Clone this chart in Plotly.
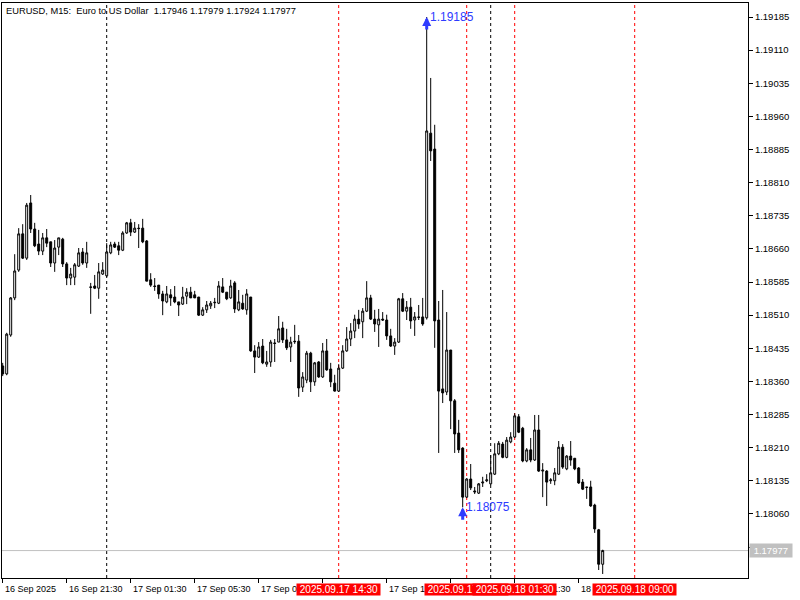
import pandas as pd
import plotly.graph_objects as go

# ---------------- data ----------------
start_time = "2025-09-16 17:30"
n_bars = 151
times = pd.date_range(start_time, periods=n_bars, freq="15min")

opens = [1.18395, 1.18377, 1.18465, 1.18549, 1.18612, 1.18694, 1.18639, 1.18764, 1.18705, 1.18671,
         1.18655, 1.18685, 1.18676, 1.18628, 1.18664, 1.18682, 1.18626, 1.18594, 1.18596, 1.18621,
         1.18653, 1.18628, 1.18574, 1.18576, 1.18571, 1.18603, 1.18599, 1.18651, 1.18671, 1.18667,
         1.18657, 1.18696, 1.18719, 1.18698, 1.18707, 1.18707, 1.18678, 1.18590, 1.18576, 1.18578,
         1.18558, 1.18540, 1.18556, 1.18551, 1.18540, 1.18535, 1.18553, 1.18562, 1.18556, 1.18551,
         1.18510, 1.18522, 1.18531, 1.18538, 1.18537, 1.18574, 1.18562, 1.18549, 1.18583, 1.18522,
         1.18537, 1.18522, 1.18551, 1.18429, 1.18415, 1.18440, 1.18399, 1.18404, 1.18447, 1.18449,
         1.18481, 1.18454, 1.18438, 1.18451, 1.18451, 1.18347, 1.18363, 1.18424, 1.18359, 1.18404,
         1.18370, 1.18429, 1.18388, 1.18356, 1.18338, 1.18390, 1.18429, 1.18456, 1.18474, 1.18501,
         1.18495, 1.18519, 1.18549, 1.18501, 1.18488, 1.18501, 1.18499, 1.18463, 1.18440, 1.18449,
         1.18547, 1.18519, 1.18528, 1.18499, 1.18506, 1.18506, 1.18504, 1.18922, 1.18886, 1.18499,
         1.18343, 1.18336, 1.18431, 1.18316, 1.18243, 1.18209, 1.18098, 1.18139, 1.18112, 1.18107,
         1.18130, 1.18135, 1.18128, 1.18150, 1.18196, 1.18218, 1.18188, 1.18223, 1.18234, 1.18280,
         1.18254, 1.18180, 1.18205, 1.18182, 1.18250, 1.18157, 1.18157, 1.18135, 1.18135, 1.18150,
         1.18211, 1.18162, 1.18191, 1.18186, 1.18164, 1.18132, 1.18121, 1.18121, 1.18080, 1.18024,
         1.17946]

highs = [1.18402, 1.18470, 1.18551, 1.18648, 1.18707, 1.18716, 1.18764, 1.18782, 1.18719, 1.18703,
         1.18696, 1.18705, 1.18676, 1.18680, 1.18685, 1.18685, 1.18630, 1.18617, 1.18628, 1.18662,
         1.18662, 1.18676, 1.18583, 1.18601, 1.18628, 1.18630, 1.18673, 1.18676, 1.18676, 1.18676,
         1.18700, 1.18721, 1.18728, 1.18721, 1.18716, 1.18728, 1.18680, 1.18605, 1.18594, 1.18578,
         1.18565, 1.18576, 1.18569, 1.18576, 1.18540, 1.18574, 1.18571, 1.18574, 1.18565, 1.18551,
         1.18528, 1.18542, 1.18542, 1.18549, 1.18587, 1.18594, 1.18562, 1.18590, 1.18587, 1.18567,
         1.18556, 1.18569, 1.18551, 1.18442, 1.18449, 1.18456, 1.18429, 1.18454, 1.18456, 1.18508,
         1.18495, 1.18479, 1.18461, 1.18488, 1.18465, 1.18381, 1.18429, 1.18427, 1.18404, 1.18406,
         1.18447, 1.18456, 1.18402, 1.18375, 1.18399, 1.18442, 1.18483, 1.18492, 1.18511, 1.18522,
         1.18526, 1.18587, 1.18556, 1.18522, 1.18524, 1.18517, 1.18511, 1.18479, 1.18458, 1.18549,
         1.18560, 1.18542, 1.18549, 1.18517, 1.18533, 1.18549, 1.19185, 1.19047, 1.18941, 1.18542,
         1.18567, 1.18517, 1.18431, 1.18320, 1.18273, 1.18211, 1.18141, 1.18173, 1.18121, 1.18130,
         1.18144, 1.18150, 1.18193, 1.18220, 1.18225, 1.18223, 1.18234, 1.18245, 1.18288, 1.18286,
         1.18257, 1.18209, 1.18232, 1.18284, 1.18284, 1.18175, 1.18159, 1.18141, 1.18164, 1.18225,
         1.18218, 1.18193, 1.18225, 1.18186, 1.18166, 1.18139, 1.18121, 1.18135, 1.18083, 1.18026,
         1.17979]

lows = [1.18372, 1.18374, 1.18461, 1.18544, 1.18608, 1.18637, 1.18635, 1.18696, 1.18664, 1.18646,
        1.18646, 1.18664, 1.18619, 1.18608, 1.18646, 1.18619, 1.18578, 1.18578, 1.18578, 1.18619,
        1.18624, 1.18617, 1.18513, 1.18569, 1.18547, 1.18601, 1.18596, 1.18648, 1.18662, 1.18646,
        1.18655, 1.18694, 1.18689, 1.18696, 1.18662, 1.18673, 1.18587, 1.18574, 1.18565, 1.18547,
        1.18510, 1.18537, 1.18531, 1.18537, 1.18508, 1.18533, 1.18535, 1.18549, 1.18549, 1.18508,
        1.18508, 1.18515, 1.18524, 1.18526, 1.18535, 1.18560, 1.18544, 1.18547, 1.18515, 1.18519,
        1.18522, 1.18511, 1.18427, 1.18379, 1.18413, 1.18399, 1.18393, 1.18393, 1.18404, 1.18449,
        1.18447, 1.18431, 1.18404, 1.18445, 1.18325, 1.18336, 1.18356, 1.18336, 1.18350, 1.18368,
        1.18368, 1.18384, 1.18347, 1.18337, 1.18336, 1.18388, 1.18427, 1.18440, 1.18458, 1.18479,
        1.18458, 1.18517, 1.18499, 1.18472, 1.18438, 1.18497, 1.18454, 1.18438, 1.18420, 1.18447,
        1.18517, 1.18499, 1.18479, 1.18463, 1.18499, 1.18486, 1.18500, 1.18859, 1.18436, 1.18198,
        1.18311, 1.18329, 1.18252, 1.18198, 1.18198, 1.18075, 1.18096, 1.18114, 1.18105, 1.18105,
        1.18121, 1.18132, 1.18125, 1.18148, 1.18193, 1.18186, 1.18186, 1.18220, 1.18232, 1.18243,
        1.18177, 1.18177, 1.18177, 1.18180, 1.18155, 1.18098, 1.18078, 1.18128, 1.18125, 1.18148,
        1.18162, 1.18159, 1.18169, 1.18159, 1.18128, 1.18114, 1.18094, 1.18076, 1.18017, 1.17933,
        1.17924]

closes = [1.18377, 1.18467, 1.18549, 1.18610, 1.18694, 1.18639, 1.18759, 1.18705, 1.18667, 1.18655,
          1.18685, 1.18673, 1.18628, 1.18662, 1.18685, 1.18626, 1.18594, 1.18603, 1.18624, 1.18651,
          1.18628, 1.18651, 1.18573, 1.18571, 1.18608, 1.18612, 1.18653, 1.18669, 1.18664, 1.18657,
          1.18696, 1.18719, 1.18698, 1.18707, 1.18706, 1.18676, 1.18587, 1.18578, 1.18575, 1.18558,
          1.18542, 1.18558, 1.18549, 1.18540, 1.18533, 1.18551, 1.18562, 1.18549, 1.18549, 1.18510,
          1.18522, 1.18533, 1.18537, 1.18539, 1.18576, 1.18562, 1.18547, 1.18576, 1.18524, 1.18540,
          1.18524, 1.18558, 1.18429, 1.18415, 1.18438, 1.18402, 1.18404, 1.18449, 1.18446, 1.18479,
          1.18454, 1.18436, 1.18449, 1.18450, 1.18345, 1.18370, 1.18424, 1.18359, 1.18402, 1.18370,
          1.18429, 1.18386, 1.18359, 1.18338, 1.18390, 1.18429, 1.18456, 1.18474, 1.18501, 1.18490,
          1.18519, 1.18549, 1.18501, 1.18490, 1.18501, 1.18499, 1.18463, 1.18440, 1.18449, 1.18547,
          1.18519, 1.18528, 1.18497, 1.18506, 1.18505, 1.18490, 1.18927, 1.18882, 1.18497, 1.18338,
          1.18334, 1.18431, 1.18316, 1.18241, 1.18205, 1.18098, 1.18139, 1.18119, 1.18110, 1.18128,
          1.18132, 1.18137, 1.18153, 1.18196, 1.18220, 1.18188, 1.18227, 1.18234, 1.18282, 1.18245,
          1.18180, 1.18205, 1.18182, 1.18250, 1.18157, 1.18159, 1.18132, 1.18137, 1.18153, 1.18211,
          1.18166, 1.18191, 1.18182, 1.18162, 1.18130, 1.18116, 1.18120, 1.18078, 1.18026, 1.17946,
          1.17977]

price_ticks = [1.19185, 1.19110, 1.19035, 1.18960, 1.18885, 1.18810, 1.18735, 1.18660,
               1.18585, 1.18510, 1.18435, 1.18360, 1.18285, 1.18210, 1.18135, 1.18060, 1.17985]

time_ticks = ["2025-09-16 17:30", "2025-09-16 21:30", "2025-09-17 01:30", "2025-09-17 05:30",
              "2025-09-17 09:30", "2025-09-17 13:30", "2025-09-17 17:30", "2025-09-17 21:30",
              "2025-09-18 01:30", "2025-09-18 05:30"]
time_tick_labels = ["16 Sep 2025", "16 Sep 21:30", "17 Sep 01:30", "17 Sep 05:30",
                    "17 Sep 09:30", "", "17 Sep 17:30", "17 Sep 21:30",
                    "18 Sep 01:30", "18 Sep 05:30"]

day_separators = ["2025-09-17 00:00", "2025-09-18 00:00"]
event_lines = ["2025-09-17 14:30", "2025-09-17 22:30", "2025-09-18 01:30", "2025-09-18 09:00"]
event_labels = ["2025.09.17 14:30", "2025.09.17 22:30", "2025.09.18 01:30", "2025.09.18 09:00"]

high_mark = ("2025-09-17 20:00", 1.19185)
low_mark = ("2025-09-17 22:15", 1.18075)

symbol_title = "EURUSD, M15:\u00a0\u00a0Euro to US Dollar\u00a0\u00a01.17946 1.17979 1.17924 1.17977"
last_price = 1.17977

x_range = ["2025-09-16 17:27:22.5", "2025-09-18 16:04:52.5"]
y_range = [1.179149, 1.192167]

# ---------------- figure ----------------
FONT = "Liberation Sans"
NBSP = "\u00a0"
fig = go.Figure()

fig.add_trace(go.Candlestick(
    x=times, open=opens, high=highs, low=lows, close=closes,
    increasing=dict(line=dict(color="black", width=1), fillcolor="white"),
    decreasing=dict(line=dict(color="black", width=1), fillcolor="black"),
    whiskerwidth=0, showlegend=False, hoverinfo="skip",
))

shapes = []
for t in day_separators:
    shapes.append(dict(type="line", xref="x", yref="paper", x0=t, x1=t, y0=0, y1=1,
                       line=dict(color="black", width=1, dash="3px,3px"), layer="below"))
for t in event_lines:
    shapes.append(dict(type="line", xref="x", yref="paper", x0=t, x1=t, y0=0, y1=1,
                       line=dict(color="#ff0000", width=1, dash="3px,3px"), layer="below"))
shapes.append(dict(type="line", xref="paper", yref="y", x0=0, x1=1, y0=last_price, y1=last_price,
                   line=dict(color="#c0c0c0", width=1), layer="below"))

annotations = []
annotations.append(dict(xref="paper", yref="paper", x=0, y=1, xanchor="left", yanchor="top",
                        xshift=2, yshift=-1, text=symbol_title, showarrow=False,
                        font=dict(family=FONT, size=9.3, color="black")))
for t, lab in zip(time_ticks, time_tick_labels):
    if lab:
        annotations.append(dict(xref="x", yref="paper", x=t, y=0, xanchor="left", yanchor="top",
                                xshift=0, yshift=-4, text=lab, showarrow=False,
                                font=dict(family=FONT, size=9, color="black")))
for t, lab in zip(event_lines, event_labels):
    annotations.append(dict(xref="x", yref="paper", x=t, y=0, xanchor="center", yanchor="top",
                            yshift=-5, text=NBSP + lab + NBSP, showarrow=False,
                            bgcolor="#ff0000", borderpad=0,
                            font=dict(family=FONT, size=10, color="white")))
annotations.append(dict(xref="paper", yref="y", x=1, y=last_price, xanchor="left", yanchor="middle",
                        xshift=1, text=NBSP + f"{last_price:.5f}" + NBSP, showarrow=False,
                        bgcolor="#c0c0c0", borderpad=1,
                        font=dict(family=FONT, size=9.5, color="white")))
BLUE = "#2e3bff"
for (t, p) in (high_mark, low_mark):
    annotations.append(dict(xref="x", yref="y", x=t, y=p, ax=0, ay=14, text="",
                            showarrow=True, arrowhead=2, arrowsize=0.6, arrowwidth=3,
                            arrowcolor=BLUE, standoff=0))
    annotations.append(dict(xref="x", yref="y", x=t, y=p, xanchor="left", yanchor="middle",
                            xshift=1, text=f"{p:.5f}", showarrow=False,
                            font=dict(family=FONT, size=12, color=BLUE)))

fig.update_layout(
    width=800, height=600, autosize=False,
    margin=dict(l=2, r=52, t=3, b=22, pad=0),
    paper_bgcolor="white", plot_bgcolor="white",
    shapes=shapes, annotations=annotations,
    showlegend=False,
    xaxis=dict(type="date", range=x_range, rangeslider=dict(visible=False),
               showgrid=False, zeroline=False, showline=True, linecolor="black", linewidth=1,
               mirror=True, ticks="outside", ticklen=4, tickcolor="black",
               tickvals=time_ticks, showticklabels=False, fixedrange=True),
    yaxis=dict(side="right", range=y_range, showgrid=False, zeroline=False,
               showline=True, linecolor="black", linewidth=1, mirror=True,
               ticks="outside", ticklen=4, tickcolor="black",
               tickvals=price_ticks, ticktext=[f"{v:.5f}" for v in price_ticks],
               tickfont=dict(family=FONT, size=9.5, color="black"), fixedrange=True),
)

fig.write_html("out.html",
               config={"displayModeBar": False},
               post_script="document.body.style.margin='0px';document.body.style.padding='0px';")
